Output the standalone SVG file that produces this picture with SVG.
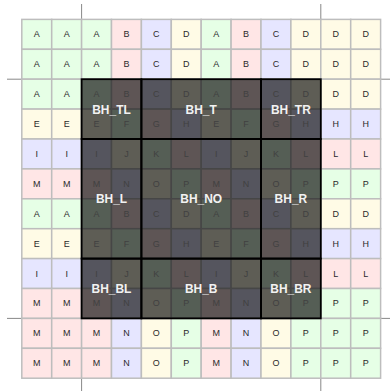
<svg xmlns="http://www.w3.org/2000/svg" width="390" height="391" viewBox="0 0 390 391">
<style>
rect.c{stroke:#bdbdbd;stroke-width:1.5}
.g{fill:#e6ffe6}.p{fill:#ffe6e6}.b{fill:#e6e6ff}.y{fill:#fffbe6}
.t{font-family:"Liberation Sans",Arial,sans-serif;font-size:9px;text-anchor:middle;fill:#2a2a2a}
.ti{fill:#b0b0b0}
.ov{fill:#000;fill-opacity:0.63;stroke:#000;stroke-width:1.8}
.lb{font-family:"Liberation Sans",Arial,sans-serif;font-size:12px;font-weight:bold;fill:#f2f2f2;text-anchor:middle}
.gl{stroke:#888;stroke-width:1;fill:none}
</style>
<g id="guides">
<line class="gl" x1="81.6" y1="4" x2="81.6" y2="391"/>
<line class="gl" x1="320.8" y1="4" x2="320.8" y2="391"/>
<line class="gl" x1="7" y1="79.2" x2="390" y2="79.2"/>
<line class="gl" x1="7" y1="318.4" x2="390" y2="318.4"/>
</g>
<g id="grid" transform="translate(21.8,19.4) scale(0.99667)">
<g id="row0" transform="translate(0,0)">
<rect class="c g" x="0" y="0" width="30" height="30"/><text class="t" x="15" y="18">A</text>
<rect class="c g" x="30" y="0" width="30" height="30"/><text class="t" x="45" y="18">A</text>
<rect class="c g" x="60" y="0" width="30" height="30"/><text class="t" x="75" y="18">A</text>
<rect class="c p" x="90" y="0" width="30" height="30"/><text class="t" x="105" y="18">B</text>
<rect class="c b" x="120" y="0" width="30" height="30"/><text class="t" x="135" y="18">C</text>
<rect class="c y" x="150" y="0" width="30" height="30"/><text class="t" x="165" y="18">D</text>
<rect class="c g" x="180" y="0" width="30" height="30"/><text class="t" x="195" y="18">A</text>
<rect class="c p" x="210" y="0" width="30" height="30"/><text class="t" x="225" y="18">B</text>
<rect class="c b" x="240" y="0" width="30" height="30"/><text class="t" x="255" y="18">C</text>
<rect class="c y" x="270" y="0" width="30" height="30"/><text class="t" x="285" y="18">D</text>
<rect class="c y" x="300" y="0" width="30" height="30"/><text class="t" x="315" y="18">D</text>
<rect class="c y" x="330" y="0" width="30" height="30"/><text class="t" x="345" y="18">D</text>
</g>
<g id="row1" transform="translate(0,30)">
<rect class="c g" x="0" y="0" width="30" height="30"/><text class="t" x="15" y="18">A</text>
<rect class="c g" x="30" y="0" width="30" height="30"/><text class="t" x="45" y="18">A</text>
<rect class="c g" x="60" y="0" width="30" height="30"/><text class="t" x="75" y="18">A</text>
<rect class="c p" x="90" y="0" width="30" height="30"/><text class="t" x="105" y="18">B</text>
<rect class="c b" x="120" y="0" width="30" height="30"/><text class="t" x="135" y="18">C</text>
<rect class="c y" x="150" y="0" width="30" height="30"/><text class="t" x="165" y="18">D</text>
<rect class="c g" x="180" y="0" width="30" height="30"/><text class="t" x="195" y="18">A</text>
<rect class="c p" x="210" y="0" width="30" height="30"/><text class="t" x="225" y="18">B</text>
<rect class="c b" x="240" y="0" width="30" height="30"/><text class="t" x="255" y="18">C</text>
<rect class="c y" x="270" y="0" width="30" height="30"/><text class="t" x="285" y="18">D</text>
<rect class="c y" x="300" y="0" width="30" height="30"/><text class="t" x="315" y="18">D</text>
<rect class="c y" x="330" y="0" width="30" height="30"/><text class="t" x="345" y="18">D</text>
</g>
<g id="row2" transform="translate(0,60)">
<rect class="c g" x="0" y="0" width="30" height="30"/><text class="t" x="15" y="18">A</text>
<rect class="c g" x="30" y="0" width="30" height="30"/><text class="t" x="45" y="18">A</text>
<rect class="c g" x="60" y="0" width="30" height="30"/><text class="t ti" x="75" y="18">A</text>
<rect class="c p" x="90" y="0" width="30" height="30"/><text class="t ti" x="105" y="18">B</text>
<rect class="c b" x="120" y="0" width="30" height="30"/><text class="t ti" x="135" y="18">C</text>
<rect class="c y" x="150" y="0" width="30" height="30"/><text class="t ti" x="165" y="18">D</text>
<rect class="c g" x="180" y="0" width="30" height="30"/><text class="t ti" x="195" y="18">A</text>
<rect class="c p" x="210" y="0" width="30" height="30"/><text class="t ti" x="225" y="18">B</text>
<rect class="c b" x="240" y="0" width="30" height="30"/><text class="t ti" x="255" y="18">C</text>
<rect class="c y" x="270" y="0" width="30" height="30"/><text class="t ti" x="285" y="18">D</text>
<rect class="c y" x="300" y="0" width="30" height="30"/><text class="t" x="315" y="18">D</text>
<rect class="c y" x="330" y="0" width="30" height="30"/><text class="t" x="345" y="18">D</text>
</g>
<g id="row3" transform="translate(0,90)">
<rect class="c y" x="0" y="0" width="30" height="30"/><text class="t" x="15" y="18">E</text>
<rect class="c y" x="30" y="0" width="30" height="30"/><text class="t" x="45" y="18">E</text>
<rect class="c y" x="60" y="0" width="30" height="30"/><text class="t ti" x="75" y="18">E</text>
<rect class="c g" x="90" y="0" width="30" height="30"/><text class="t ti" x="105" y="18">F</text>
<rect class="c p" x="120" y="0" width="30" height="30"/><text class="t ti" x="135" y="18">G</text>
<rect class="c b" x="150" y="0" width="30" height="30"/><text class="t ti" x="165" y="18">H</text>
<rect class="c y" x="180" y="0" width="30" height="30"/><text class="t ti" x="195" y="18">E</text>
<rect class="c g" x="210" y="0" width="30" height="30"/><text class="t ti" x="225" y="18">F</text>
<rect class="c p" x="240" y="0" width="30" height="30"/><text class="t ti" x="255" y="18">G</text>
<rect class="c b" x="270" y="0" width="30" height="30"/><text class="t ti" x="285" y="18">H</text>
<rect class="c b" x="300" y="0" width="30" height="30"/><text class="t" x="315" y="18">H</text>
<rect class="c b" x="330" y="0" width="30" height="30"/><text class="t" x="345" y="18">H</text>
</g>
<g id="row4" transform="translate(0,120)">
<rect class="c b" x="0" y="0" width="30" height="30"/><text class="t" x="15" y="18">I</text>
<rect class="c b" x="30" y="0" width="30" height="30"/><text class="t" x="45" y="18">I</text>
<rect class="c b" x="60" y="0" width="30" height="30"/><text class="t ti" x="75" y="18">I</text>
<rect class="c y" x="90" y="0" width="30" height="30"/><text class="t ti" x="105" y="18">J</text>
<rect class="c g" x="120" y="0" width="30" height="30"/><text class="t ti" x="135" y="18">K</text>
<rect class="c p" x="150" y="0" width="30" height="30"/><text class="t ti" x="165" y="18">L</text>
<rect class="c b" x="180" y="0" width="30" height="30"/><text class="t ti" x="195" y="18">I</text>
<rect class="c y" x="210" y="0" width="30" height="30"/><text class="t ti" x="225" y="18">J</text>
<rect class="c g" x="240" y="0" width="30" height="30"/><text class="t ti" x="255" y="18">K</text>
<rect class="c p" x="270" y="0" width="30" height="30"/><text class="t ti" x="285" y="18">L</text>
<rect class="c p" x="300" y="0" width="30" height="30"/><text class="t" x="315" y="18">L</text>
<rect class="c p" x="330" y="0" width="30" height="30"/><text class="t" x="345" y="18">L</text>
</g>
<g id="row5" transform="translate(0,150)">
<rect class="c p" x="0" y="0" width="30" height="30"/><text class="t" x="15" y="18">M</text>
<rect class="c p" x="30" y="0" width="30" height="30"/><text class="t" x="45" y="18">M</text>
<rect class="c p" x="60" y="0" width="30" height="30"/><text class="t ti" x="75" y="18">M</text>
<rect class="c b" x="90" y="0" width="30" height="30"/><text class="t ti" x="105" y="18">N</text>
<rect class="c y" x="120" y="0" width="30" height="30"/><text class="t ti" x="135" y="18">O</text>
<rect class="c g" x="150" y="0" width="30" height="30"/><text class="t ti" x="165" y="18">P</text>
<rect class="c p" x="180" y="0" width="30" height="30"/><text class="t ti" x="195" y="18">M</text>
<rect class="c b" x="210" y="0" width="30" height="30"/><text class="t ti" x="225" y="18">N</text>
<rect class="c y" x="240" y="0" width="30" height="30"/><text class="t ti" x="255" y="18">O</text>
<rect class="c g" x="270" y="0" width="30" height="30"/><text class="t ti" x="285" y="18">P</text>
<rect class="c g" x="300" y="0" width="30" height="30"/><text class="t" x="315" y="18">P</text>
<rect class="c g" x="330" y="0" width="30" height="30"/><text class="t" x="345" y="18">P</text>
</g>
<g id="row6" transform="translate(0,180)">
<rect class="c g" x="0" y="0" width="30" height="30"/><text class="t" x="15" y="18">A</text>
<rect class="c g" x="30" y="0" width="30" height="30"/><text class="t" x="45" y="18">A</text>
<rect class="c g" x="60" y="0" width="30" height="30"/><text class="t ti" x="75" y="18">A</text>
<rect class="c p" x="90" y="0" width="30" height="30"/><text class="t ti" x="105" y="18">B</text>
<rect class="c b" x="120" y="0" width="30" height="30"/><text class="t ti" x="135" y="18">C</text>
<rect class="c y" x="150" y="0" width="30" height="30"/><text class="t ti" x="165" y="18">D</text>
<rect class="c g" x="180" y="0" width="30" height="30"/><text class="t ti" x="195" y="18">A</text>
<rect class="c p" x="210" y="0" width="30" height="30"/><text class="t ti" x="225" y="18">B</text>
<rect class="c b" x="240" y="0" width="30" height="30"/><text class="t ti" x="255" y="18">C</text>
<rect class="c y" x="270" y="0" width="30" height="30"/><text class="t ti" x="285" y="18">D</text>
<rect class="c y" x="300" y="0" width="30" height="30"/><text class="t" x="315" y="18">D</text>
<rect class="c y" x="330" y="0" width="30" height="30"/><text class="t" x="345" y="18">D</text>
</g>
<g id="row7" transform="translate(0,210)">
<rect class="c y" x="0" y="0" width="30" height="30"/><text class="t" x="15" y="18">E</text>
<rect class="c y" x="30" y="0" width="30" height="30"/><text class="t" x="45" y="18">E</text>
<rect class="c y" x="60" y="0" width="30" height="30"/><text class="t ti" x="75" y="18">E</text>
<rect class="c g" x="90" y="0" width="30" height="30"/><text class="t ti" x="105" y="18">F</text>
<rect class="c p" x="120" y="0" width="30" height="30"/><text class="t ti" x="135" y="18">G</text>
<rect class="c b" x="150" y="0" width="30" height="30"/><text class="t ti" x="165" y="18">H</text>
<rect class="c y" x="180" y="0" width="30" height="30"/><text class="t ti" x="195" y="18">E</text>
<rect class="c g" x="210" y="0" width="30" height="30"/><text class="t ti" x="225" y="18">F</text>
<rect class="c p" x="240" y="0" width="30" height="30"/><text class="t ti" x="255" y="18">G</text>
<rect class="c b" x="270" y="0" width="30" height="30"/><text class="t ti" x="285" y="18">H</text>
<rect class="c b" x="300" y="0" width="30" height="30"/><text class="t" x="315" y="18">H</text>
<rect class="c b" x="330" y="0" width="30" height="30"/><text class="t" x="345" y="18">H</text>
</g>
<g id="row8" transform="translate(0,240)">
<rect class="c b" x="0" y="0" width="30" height="30"/><text class="t" x="15" y="18">I</text>
<rect class="c b" x="30" y="0" width="30" height="30"/><text class="t" x="45" y="18">I</text>
<rect class="c b" x="60" y="0" width="30" height="30"/><text class="t ti" x="75" y="18">I</text>
<rect class="c y" x="90" y="0" width="30" height="30"/><text class="t ti" x="105" y="18">J</text>
<rect class="c g" x="120" y="0" width="30" height="30"/><text class="t ti" x="135" y="18">K</text>
<rect class="c p" x="150" y="0" width="30" height="30"/><text class="t ti" x="165" y="18">L</text>
<rect class="c b" x="180" y="0" width="30" height="30"/><text class="t ti" x="195" y="18">I</text>
<rect class="c y" x="210" y="0" width="30" height="30"/><text class="t ti" x="225" y="18">J</text>
<rect class="c g" x="240" y="0" width="30" height="30"/><text class="t ti" x="255" y="18">K</text>
<rect class="c p" x="270" y="0" width="30" height="30"/><text class="t ti" x="285" y="18">L</text>
<rect class="c p" x="300" y="0" width="30" height="30"/><text class="t" x="315" y="18">L</text>
<rect class="c p" x="330" y="0" width="30" height="30"/><text class="t" x="345" y="18">L</text>
</g>
<g id="row9" transform="translate(0,270)">
<rect class="c p" x="0" y="0" width="30" height="30"/><text class="t" x="15" y="18">M</text>
<rect class="c p" x="30" y="0" width="30" height="30"/><text class="t" x="45" y="18">M</text>
<rect class="c p" x="60" y="0" width="30" height="30"/><text class="t ti" x="75" y="18">M</text>
<rect class="c b" x="90" y="0" width="30" height="30"/><text class="t ti" x="105" y="18">N</text>
<rect class="c y" x="120" y="0" width="30" height="30"/><text class="t ti" x="135" y="18">O</text>
<rect class="c g" x="150" y="0" width="30" height="30"/><text class="t ti" x="165" y="18">P</text>
<rect class="c p" x="180" y="0" width="30" height="30"/><text class="t ti" x="195" y="18">M</text>
<rect class="c b" x="210" y="0" width="30" height="30"/><text class="t ti" x="225" y="18">N</text>
<rect class="c y" x="240" y="0" width="30" height="30"/><text class="t ti" x="255" y="18">O</text>
<rect class="c g" x="270" y="0" width="30" height="30"/><text class="t ti" x="285" y="18">P</text>
<rect class="c g" x="300" y="0" width="30" height="30"/><text class="t" x="315" y="18">P</text>
<rect class="c g" x="330" y="0" width="30" height="30"/><text class="t" x="345" y="18">P</text>
</g>
<g id="row10" transform="translate(0,300)">
<rect class="c p" x="0" y="0" width="30" height="30"/><text class="t" x="15" y="18">M</text>
<rect class="c p" x="30" y="0" width="30" height="30"/><text class="t" x="45" y="18">M</text>
<rect class="c p" x="60" y="0" width="30" height="30"/><text class="t" x="75" y="18">M</text>
<rect class="c b" x="90" y="0" width="30" height="30"/><text class="t" x="105" y="18">N</text>
<rect class="c y" x="120" y="0" width="30" height="30"/><text class="t" x="135" y="18">O</text>
<rect class="c g" x="150" y="0" width="30" height="30"/><text class="t" x="165" y="18">P</text>
<rect class="c p" x="180" y="0" width="30" height="30"/><text class="t" x="195" y="18">M</text>
<rect class="c b" x="210" y="0" width="30" height="30"/><text class="t" x="225" y="18">N</text>
<rect class="c y" x="240" y="0" width="30" height="30"/><text class="t" x="255" y="18">O</text>
<rect class="c g" x="270" y="0" width="30" height="30"/><text class="t" x="285" y="18">P</text>
<rect class="c g" x="300" y="0" width="30" height="30"/><text class="t" x="315" y="18">P</text>
<rect class="c g" x="330" y="0" width="30" height="30"/><text class="t" x="345" y="18">P</text>
</g>
<g id="row11" transform="translate(0,330)">
<rect class="c p" x="0" y="0" width="30" height="30"/><text class="t" x="15" y="18">M</text>
<rect class="c p" x="30" y="0" width="30" height="30"/><text class="t" x="45" y="18">M</text>
<rect class="c p" x="60" y="0" width="30" height="30"/><text class="t" x="75" y="18">M</text>
<rect class="c b" x="90" y="0" width="30" height="30"/><text class="t" x="105" y="18">N</text>
<rect class="c y" x="120" y="0" width="30" height="30"/><text class="t" x="135" y="18">O</text>
<rect class="c g" x="150" y="0" width="30" height="30"/><text class="t" x="165" y="18">P</text>
<rect class="c p" x="180" y="0" width="30" height="30"/><text class="t" x="195" y="18">M</text>
<rect class="c b" x="210" y="0" width="30" height="30"/><text class="t" x="225" y="18">N</text>
<rect class="c y" x="240" y="0" width="30" height="30"/><text class="t" x="255" y="18">O</text>
<rect class="c g" x="270" y="0" width="30" height="30"/><text class="t" x="285" y="18">P</text>
<rect class="c g" x="300" y="0" width="30" height="30"/><text class="t" x="315" y="18">P</text>
<rect class="c g" x="330" y="0" width="30" height="30"/><text class="t" x="345" y="18">P</text>
</g>
<g id="BH_TL"><rect class="ov" x="60" y="60" width="60" height="60"/><text class="lb" x="90" y="94.5">BH_TL</text></g>
<g id="BH_T"><rect class="ov" x="120" y="60" width="120" height="60"/><text class="lb" x="180" y="94.5">BH_T</text></g>
<g id="BH_TR"><rect class="ov" x="240" y="60" width="60" height="60"/><text class="lb" x="270" y="94.5">BH_TR</text></g>
<g id="BH_L"><rect class="ov" x="60" y="120" width="60" height="120"/><text class="lb" x="90" y="184.5">BH_L</text></g>
<g id="BH_NO"><rect class="ov" x="120" y="120" width="120" height="120"/><text class="lb" x="180" y="184.5">BH_NO</text></g>
<g id="BH_R"><rect class="ov" x="240" y="120" width="60" height="120"/><text class="lb" x="270" y="184.5">BH_R</text></g>
<g id="BH_BL"><rect class="ov" x="60" y="240" width="60" height="60"/><text class="lb" x="90" y="274.5">BH_BL</text></g>
<g id="BH_B"><rect class="ov" x="120" y="240" width="120" height="60"/><text class="lb" x="180" y="274.5">BH_B</text></g>
<g id="BH_BR"><rect class="ov" x="240" y="240" width="60" height="60"/><text class="lb" x="270" y="274.5">BH_BR</text></g>
</g>
</svg>
